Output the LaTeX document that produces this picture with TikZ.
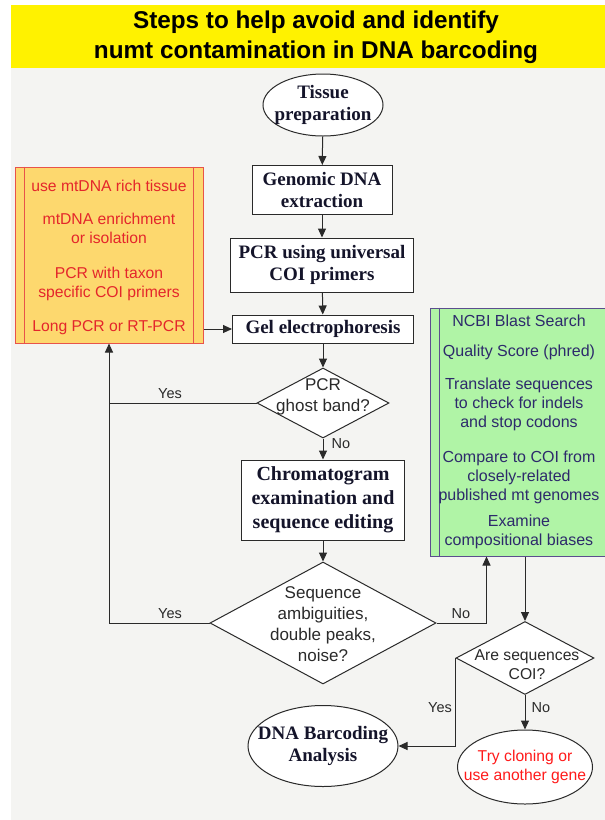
\documentclass[tikz,border=0pt]{standalone}
\usepackage{fontspec}
\setmainfont{Liberation Serif}
\newfontfamily\arialf{Liberation Sans}
\usetikzlibrary{shapes.geometric,arrows.meta}
\definecolor{banner}{HTML}{FFF200}
\definecolor{bggrey}{HTML}{F4F4F2}
\definecolor{ofill}{HTML}{FDD86E}
\definecolor{oline}{HTML}{E8534A}
\definecolor{otext}{HTML}{E4262B}
\definecolor{gfill}{HTML}{B0F4A6}
\definecolor{gline}{HTML}{5B4E8E}
\definecolor{gtext}{HTML}{2D2A6B}
\definecolor{rtext}{HTML}{FF1A1A}
\definecolor{lcol}{HTML}{2A2A2A}
\definecolor{btcol}{HTML}{14142A}
\begin{document}
\begin{tikzpicture}[x=1pt,y=-1pt,
  box/.style={draw=lcol, line width=1pt, fill=white, rectangle, inner sep=0pt, align=center,
    text=btcol, font=\fontsize{19}{22}\selectfont\bfseries},
  ell/.style={draw=lcol, line width=1pt, fill=white, ellipse, inner sep=0pt},
  dia/.style={draw=lcol, line width=1pt, fill=white, diamond, inner sep=0pt},
  btext/.style={align=center, text=btcol, font=\fontsize{19}{22}\selectfont\bfseries, inner sep=0pt},
  atext/.style={align=center, text=lcol, font=\arialf\fontsize{17}{21}\selectfont, inner sep=0pt},
  stext/.style={align=center, font=\arialf\fontsize{15.7}{19}\selectfont, inner sep=0pt},
  gtextst/.style={align=center, text=gtext, font=\arialf\fontsize{16}{19}\selectfont, inner sep=0pt},
  lab/.style={text=lcol, font=\arialf\fontsize{14.5}{17}\selectfont, inner sep=0pt},
  arr/.style={draw=lcol, line width=1pt, -{Triangle[length=9pt,width=8pt]}},
  con/.style={draw=lcol, line width=1pt}]
\useasboundingbox (0,0) rectangle (605,820);
\clip (0,0) rectangle (605,820);
\fill[white] (0,0) rectangle (605,820);
\fill[bggrey] (11,68) rectangle (605,820);
\fill[banner] (11,5) rectangle (605,68);
\node[align=center, inner sep=0pt, font=\arialf\fontsize{24.3}{30}\selectfont\bfseries] (title) at (316,37)
  {Steps to help avoid and identify\\numt contamination in DNA barcoding};

% main column
\node[ell, minimum width=120, minimum height=62] (tissue) at (323,105) {};
\node[btext] (tissuet) at (tissue) {Tissue\\preparation};
\node[box, minimum width=140, minimum height=49] (gen) at (322,190) {Genomic DNA\\extraction};
\node[box, minimum width=183, minimum height=54] (pcr) at (322,265) {PCR using universal\\COI primers};
\node[box, minimum width=181, minimum height=28] (gel) at (323,329) {Gel electrophoresis};
\node[dia, minimum width=132, minimum height=70] (ghost) at (323,403) {};
\node[atext] (ghostt) at (323,397) {PCR\\ghost band?};
\node[box, minimum width=163, minimum height=80, font=\fontsize{20}{24}\selectfont\bfseries] (chrom) at (323,500)
  {Chromatogram\\examination and\\sequence editing};
\node[dia, minimum width=226, minimum height=122] (seq) at (323,623) {};
\node[atext] (seqt) at (323,624) {Sequence\\ambiguities,\\double peaks,\\noise?};

% orange side box
\node[rectangle, draw=oline, line width=1pt, fill=ofill, minimum width=188, minimum height=176, inner sep=0pt] (opts) at (109,255) {};
\draw[oline, line width=1pt] ([xshift=10]opts.north west) -- ([xshift=10]opts.south west);
\draw[oline, line width=1pt] ([xshift=-10]opts.north east) -- ([xshift=-10]opts.south east);
\node[stext, text=otext] (o1) at (109,186) {use mtDNA rich tissue};
\node[stext, text=otext] (o2) at (109,228) {mtDNA enrichment\\or isolation};
\node[stext, text=otext] (o3) at (109,283.5) {PCR with taxon\\specific COI primers};
\node[stext, text=otext] (o4) at (109,328) {Long PCR or RT-PCR};

% green side box
\node[rectangle, draw=gline, line width=1pt, fill=gfill, minimum width=190, minimum height=248, inner sep=0pt] (ncbi) at (525,432) {};
\draw[gline, line width=1pt] ([xshift=10]ncbi.north west) -- ([xshift=10]ncbi.south west);
\node[gtextst] (g1) at (519,321) {NCBI Blast Search};
\node[gtextst] (g2) at (519,352) {Quality Score (phred)};
\node[gtextst] (g3) at (519,404) {Translate sequences\\to check for indels\\and stop codons};
\node[gtextst] (g4) at (519,477) {Compare to COI from\\closely-related\\published mt genomes};
\node[gtextst] (g5) at (519,532) {Examine\\compositional biases};

% lower right
\node[dia, minimum width=138, minimum height=73] (coi) at (525,658) {};
\node[stext, text=lcol] (coit) at (527,665) {Are sequences\\COI?};
\node[ell, minimum width=150, minimum height=81] (dna) at (323,746) {};
\node[btext] (dnat) at (dna) {DNA Barcoding\\Analysis};
\node[ell, minimum width=135, minimum height=74] (try) at (525,767) {};
\node[stext, text=rtext] (tryt) at (try) {Try cloning or\\use another gene};

% connectors
\draw[arr] (tissue) -- (gen);
\draw[arr] (gen) -- (pcr);
\draw[arr] (pcr) -- (gel);
\draw[arr] (gel) -- (ghost);
\draw[arr] (ghost) -- (chrom);
\node[lab] (no1) at (341,444) {No};
\draw[arr] (chrom) -- (seq);
\draw[arr] (gel.west -| opts.east) -- (gel.west);
\draw[con] (ghost.west) -- (ghost.west -| opts.south);
\node[lab] (yes1) at (170,394) {Yes};
\draw[arr] (seq.west) -- (seq.west -| opts.south) -- (opts.south);
\node[lab] (yes2) at (170,614) {Yes};
\draw[arr] (seq.east) -| ([xshift=57]ncbi.south west);
\node[lab] (no2) at (461,614) {No};
\draw[arr] (coi.north |- ncbi.south) -- (coi.north);
\draw[arr] (coi.west) -- (coi.west |- dna.east) -- (dna.east);
\node[lab] (yes3) at (440,708) {Yes};
\draw[arr] (coi.south) -- (try.north);
\node[lab] (no3) at (541,708) {No};
\end{tikzpicture}
\end{document}
